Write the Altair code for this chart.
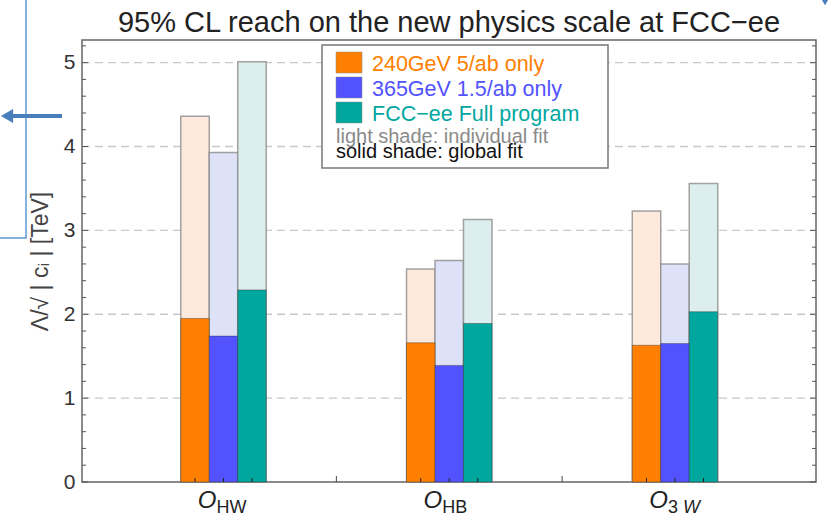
import altair as alt
import pandas as pd

# ---------------- data ----------------
groups = ["HW", "HB", "3W"]
group_pos = [1, 2, 3]
subscripts = ["HW", "HB", "3"]
series = ["240GeV 5/ab only", "365GeV 1.5/ab only", "FCC−ee Full program"]

indiv_240 = [4.36, 2.54, 3.23]
indiv_365 = [3.93, 2.64, 2.60]
indiv_full = [5.01, 3.13, 3.56]
glob_240 = [1.95, 1.66, 1.63]
glob_365 = [1.74, 1.39, 1.65]
glob_full = [2.29, 1.89, 2.03]

y_major = [0, 1, 2, 3, 4, 5]
y_grid = [1, 2, 3, 4, 5]
y_minor = [round(i * 0.2, 1) for i in range(27) if i % 5]
x_bounds = [1.5, 2.5]

solid_colors = ["#FF7F00", "#5252FF", "#00A79F"]
light_colors = ["#FDEADC", "#DEE2F8", "#DCEEED"]

title_text = "95% CL reach on the new physics scale at FCC−ee"
y_title = "Λ/√ | cᵢ |   [TeV]"
note_light = "light shade: individual fit"
note_solid = "solid shade: global fit"

# ---------------- tables ----------------
rows = []
indiv = [indiv_240, indiv_365, indiv_full]
glob = [glob_240, glob_365, glob_full]
for gi, (g, p) in enumerate(zip(groups, group_pos)):
    for k, s in enumerate(series):
        rows.append(dict(group=g, pos=p, k=k, series=s,
                         individual=indiv[k][gi], glob=glob[k][gi]))
bars = pd.DataFrame(rows)

W, H = 734, 442
BW = 0.1262
FONT = "Liberation Sans"

xs = alt.Scale(domain=[0.3732, 3.6246], nice=False, zero=False)
ys = alt.Scale(domain=[0, 5.27], nice=False, zero=False)
yaxis = alt.Axis(values=y_major, ticks=False, domain=False, grid=False,
                 labelFont=FONT, labelFontSize=21, labelColor="#333",
                 labelPadding=7, title=y_title, titleFont=FONT,
                 titleFontSize=23, titleFontWeight="normal",
                 titleColor="#444", titlePadding=11)

bar_base = alt.Chart(bars).transform_calculate(
    x0=f"datum.pos + (datum.k - 1) * {BW} - {BW / 2}",
    x1=f"datum.pos + (datum.k - 1) * {BW} + {BW / 2}",
    xc=f"datum.pos + (datum.k - 1) * {BW}",
)

grid = alt.Chart(pd.DataFrame({"v": y_grid})).mark_rule(
    color="#c8c8c8", strokeWidth=1.3, strokeDash=[8, 5]
).encode(y=alt.Y("v:Q", scale=ys, axis=yaxis), x=alt.value(0), x2=alt.value(W))

light = bar_base.mark_rect(stroke="#8c8c8c", strokeWidth=1.5, strokeOpacity=0.8).encode(
    x=alt.X("x0:Q", scale=xs, axis=None), x2="x1:Q",
    y=alt.Y("individual:Q", scale=ys, axis=yaxis), y2=alt.datum(0),
    fill=alt.Fill("series:N", scale=alt.Scale(domain=series, range=light_colors), legend=None),
)
solid = bar_base.mark_rect(stroke="#333", strokeWidth=0.7, strokeOpacity=0.6).encode(
    x=alt.X("x0:Q", scale=xs, axis=None), x2="x1:Q",
    y=alt.Y("glob:Q", scale=ys, axis=yaxis), y2=alt.datum(0),
    color=alt.Color("series:N", scale=alt.Scale(domain=series, range=solid_colors), legend=None),
)
bar_ticks = bar_base.mark_rule(color="#222", strokeWidth=1).encode(
    x=alt.X("xc:Q", scale=xs, axis=None), y=alt.value(H), y2=alt.value(H - 4))

bound_ticks = alt.Chart(pd.DataFrame({"b": x_bounds})).mark_rule(color="#444", strokeWidth=1).encode(
    x=alt.X("b:Q", scale=xs, axis=None), y=alt.value(H), y2=alt.value(H - 6))

def yticks(vals, x_a, x_b):
    return alt.Chart(pd.DataFrame({"v": vals})).mark_rule(color="#555", strokeWidth=1).encode(
        y=alt.Y("v:Q", scale=ys, axis=yaxis), x=alt.value(x_a), x2=alt.value(x_b))

tick_layers = [yticks(y_major, 0, 6), yticks(y_minor, 0, 4),
               yticks(y_major, W, W - 6), yticks(y_minor, W, W - 4)]

# x labels
lab = pd.DataFrame({"pos": group_pos, "sub": subscripts})
o_lab = alt.Chart(lab).mark_text(text="O", font=FONT, fontStyle="italic", fontSize=24,
                                 align="right", baseline="alphabetic", dx=-7, color="#222").encode(
    x=alt.X("pos:Q", scale=xs, axis=None), y=alt.value(468))
sub_lab = alt.Chart(lab).mark_text(font=FONT, fontSize=18, align="left",
                                   baseline="alphabetic", dx=-7, color="#222").encode(
    x=alt.X("pos:Q", scale=xs, axis=None), y=alt.value(473), text="sub:N")
w_lab = alt.Chart(pd.DataFrame({"pos": [group_pos[2]], "sub": ["W"]})).mark_text(
    font=FONT, fontSize=18, fontStyle="italic", align="left", baseline="alphabetic",
    dx=8, color="#222").encode(
    x=alt.X("pos:Q", scale=xs, axis=None), y=alt.value(473), text="sub:N")

# title
title = alt.Chart(pd.DataFrame({"t": [title_text]})).mark_text(
    font=FONT, fontSize=29, align="center", baseline="alphabetic", color="#222").encode(
    x=alt.value(W / 2), y=alt.value(-8), text="t:N")

# legend box
LX, LY = 240, 5
leg_box = alt.Chart(pd.DataFrame({"a": [0]})).mark_rect(
    fill="white", stroke="#777", strokeWidth=1.5).encode(
    x=alt.value(LX), x2=alt.value(526), y=alt.value(LY), y2=alt.value(128))
leg_layers = [leg_box]
for k, s in enumerate(series):
    top = 12 + k * 25
    leg_layers.append(alt.Chart(pd.DataFrame({"s": [s]})).mark_rect(
        fill=solid_colors[k], stroke="#888", strokeWidth=0.5).encode(
        x=alt.value(254), x2=alt.value(280), y=alt.value(top), y2=alt.value(top + 21)))
    leg_layers.append(alt.Chart(pd.DataFrame({"s": [s]})).mark_text(
        font=FONT, fontSize=21.5, align="left", baseline="alphabetic", color=solid_colors[k]).encode(
        x=alt.value(290), y=alt.value(top + 19), text="s:N"))
leg_layers.append(alt.Chart(pd.DataFrame({"s": [note_light]})).mark_text(
    font=FONT, fontSize=20, align="left", baseline="alphabetic", color="#8a8a8a").encode(
    x=alt.value(254), y=alt.value(103), text="s:N"))
leg_layers.append(alt.Chart(pd.DataFrame({"s": [note_solid]})).mark_text(
    font=FONT, fontSize=20, align="left", baseline="alphabetic", color="#111").encode(
    x=alt.value(254), y=alt.value(118), text="s:N"))

# slide decorations around the figure
deco = pd.DataFrame({"a": [0]})
side_box = alt.Chart(deco).mark_rect(fill="white", stroke="#5B9BD5", strokeWidth=1.5).encode(
    x=alt.value(-90), x2=alt.value(-56), y=alt.value(-45), y2=alt.value(198))
arrow_line = alt.Chart(deco).mark_rule(color="#4A7EBB", strokeWidth=4).encode(
    x=alt.value(-20), x2=alt.value(-70), y=alt.value(76))
arrow_head = alt.Chart(deco).mark_point(shape="triangle-left", filled=True, size=200,
                                        color="#4A7EBB", opacity=1).encode(
    x=alt.value(-75), y=alt.value(76))
corner = alt.Chart(deco).mark_point(shape="triangle-down", filled=True, size=60,
                                    color="#4A7EBB", opacity=1).encode(
    x=alt.value(743), y=alt.value(-38))

chart = alt.layer(
    grid, light, solid, bar_ticks, bound_ticks, *tick_layers,
    o_lab, sub_lab, w_lab, title, *leg_layers,
    side_box, arrow_line, arrow_head, corner,
).resolve_scale(color="independent").properties(
    width=W, height=H, autosize="none",
    padding={"left": 82, "top": 40, "right": 20, "bottom": 35},
    background="white",
).configure_view(stroke="#666", strokeWidth=1.5)

chart.save("out.html", embed_options={"renderer": "svg", "actions": False})
